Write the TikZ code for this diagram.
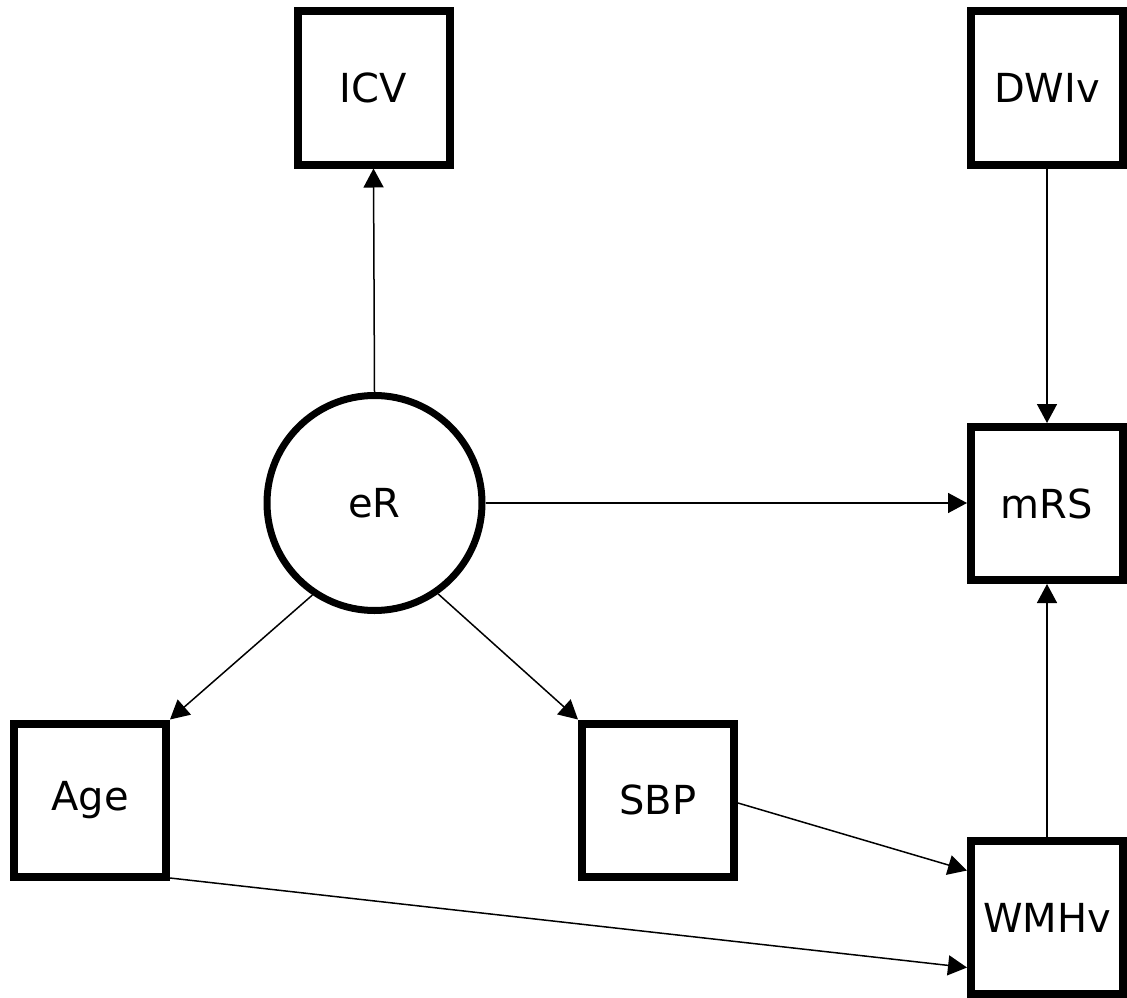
\documentclass[tikz,border=0pt]{standalone}
\usepackage{fontspec}
\setmainfont{DejaVu Sans}
\usetikzlibrary{arrows.meta}
\begin{document}
\begin{tikzpicture}[x=1pt,y=-1pt,
  var/.style={draw, line width=8pt, minimum width=152pt, minimum height=153pt, inner sep=0pt, font=\fontsize{40}{48}\selectfont},
  lat/.style={draw, circle, line width=7pt, minimum size=215pt, inner sep=0pt, font=\fontsize{40}{48}\selectfont},
  arr/.style={line width=1.5pt, -{Triangle[length=19pt,width=20pt]}}]
\useasboundingbox (0,0) rectangle (1127,998);
\node[var] (ICV) at (373.5,88) {ICV};
\node[var] (DWIv) at (1047,88) {DWIv};
\node[lat] (eR) at (374.5,503) {eR};
\node[var] (mRS) at (1047,503.5) {mRS};
\node[var] (Age) at (90,800) {Age};
\node[var] (SBP) at (658,800) {SBP};
\node[var] (WMHv) at (1047,917.5) {WMHv};
\draw[arr] (eR.north) -- (ICV.south);
\draw[arr] (DWIv.south) -- (mRS.north);
\draw[arr] (eR.east) -- (eR.east -| mRS.west);
\draw[arr] (WMHv.north) -- (mRS.south);
\draw[arr] (eR.236) -- (Age.north east);
\draw[arr] (eR.305) -- (SBP.north west);
\draw[arr] ([yshift=-3pt]SBP.east) -- ([yshift=47pt]WMHv.west);
\draw[arr] ([yshift=-78pt]Age.east) -- ([yshift=-50pt]WMHv.west);
\end{tikzpicture}
\end{document}
